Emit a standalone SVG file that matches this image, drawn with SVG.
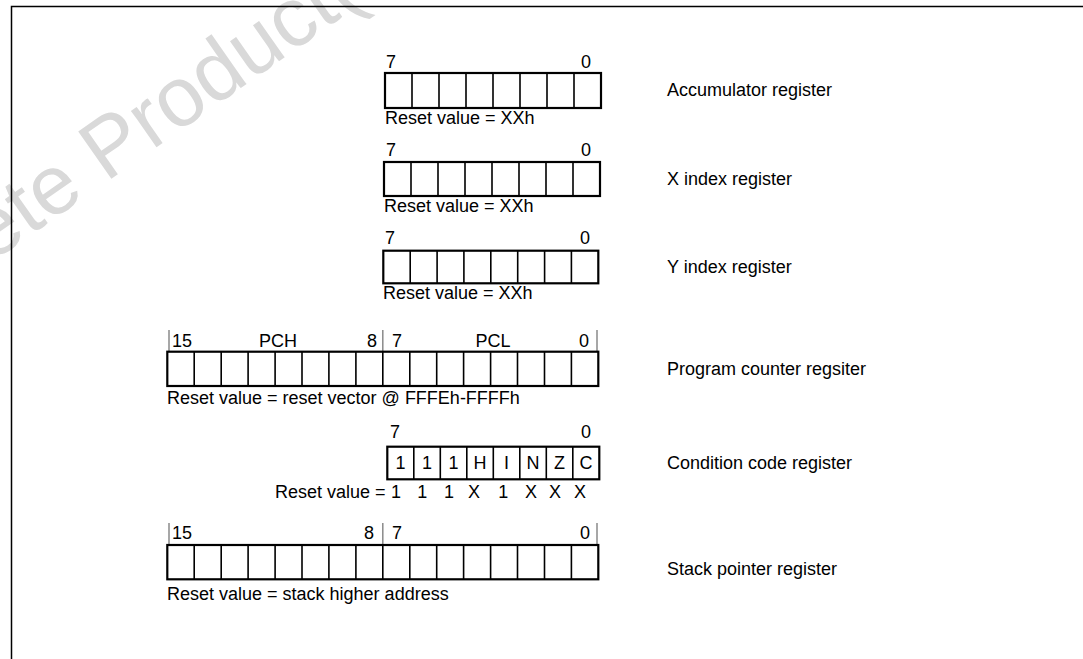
<svg xmlns="http://www.w3.org/2000/svg" width="1083" height="659" viewBox="0 0 1083 659">
<style>
.t{font-family:"Liberation Sans",Arial,Helvetica,sans-serif;font-size:18px;fill:#000}
.m{text-anchor:middle}
.e{text-anchor:end}
.box{fill:none;stroke:#000;stroke-width:2.2}
.cell{fill:none;stroke:#000;stroke-width:1.6}
.tick{stroke:#8a8a8a;stroke-width:1.5}
.wm{font-family:"Liberation Sans",Arial,sans-serif;font-size:84px;fill:#d9d9d9}
.frame{fill:none;stroke:#000;stroke-width:1.5}
</style>
<rect width="1083" height="659" fill="#fff"/>
<g id="watermark">
<text class="wm" transform="translate(-9 263) rotate(-35)">ete Product(</text>
</g>
<g id="frame"><path class="frame" d="M11.5 659V6.5H1083"/></g>

<g id="accumulator">
<text class="t" x="386" y="68">7</text>
<text class="t e" x="591" y="68">0</text>
<rect class="box" x="385" y="73" width="216" height="35"/>
<path class="cell" d="M412 73V108M439 73V108M466 73V108M493 73V108M520 73V108M547 73V108M574 73V108"/>
<text class="t" x="385" y="124">Reset value = XXh</text>
<text class="t" x="667" y="96">Accumulator register</text>
</g>

<g id="x-index">
<text class="t" x="386" y="156">7</text>
<text class="t e" x="591" y="156">0</text>
<rect class="box" x="384" y="162" width="216" height="34"/>
<path class="cell" d="M411 162V196M438 162V196M465 162V196M492 162V196M519 162V196M546 162V196M573 162V196"/>
<text class="t" x="384" y="212">Reset value = XXh</text>
<text class="t" x="667" y="185">X index register</text>
</g>

<g id="y-index">
<text class="t" x="385" y="244">7</text>
<text class="t e" x="590" y="244">0</text>
<rect class="box" x="383.3" y="250.7" width="215" height="32.6"/>
<path class="cell" d="M410.2 250.7V283.3M437.1 250.7V283.3M463.9 250.7V283.3M490.8 250.7V283.3M517.7 250.7V283.3M544.6 250.7V283.3M571.4 250.7V283.3"/>
<text class="t" x="383" y="299">Reset value = XXh</text>
<text class="t" x="667" y="273">Y index register</text>
</g>

<g id="program-counter">
<path class="tick" d="M169 330V351.7M382.8 330V351.7M597 330V351.7"/>
<text class="t" x="172" y="347">15</text>
<text class="t m" x="278" y="347">PCH</text>
<text class="t e" x="377" y="347">8</text>
<text class="t" x="392" y="347">7</text>
<text class="t m" x="493" y="347">PCL</text>
<text class="t e" x="589" y="347">0</text>
<rect class="box" x="167.3" y="351.7" width="431" height="34.3"/>
<path class="cell" d="M194.2 351.7V386M221.2 351.7V386M248.1 351.7V386M275.1 351.7V386M302 351.7V386M328.9 351.7V386M355.9 351.7V386M382.8 351.7V386M409.8 351.7V386M436.7 351.7V386M463.6 351.7V386M490.6 351.7V386M517.5 351.7V386M544.5 351.7V386M571.4 351.7V386"/>
<text class="t" x="167" y="404">Reset value = reset vector @ FFFEh-FFFFh</text>
<text class="t" x="667" y="375">Program counter regsiter</text>
</g>

<g id="condition-code">
<text class="t" x="390" y="438">7</text>
<text class="t e" x="591" y="438">0</text>
<rect class="box" x="387.3" y="446.7" width="212" height="32.6"/>
<path class="cell" d="M413.8 446.7V479.3M440.3 446.7V479.3M466.8 446.7V479.3M493.3 446.7V479.3M519.8 446.7V479.3M546.3 446.7V479.3M572.8 446.7V479.3"/>
<text class="t m" y="469"><tspan x="400.6">1</tspan><tspan x="427">1</tspan><tspan x="453.6">1</tspan><tspan x="480">H</tspan><tspan x="506.6">I</tspan><tspan x="533">N</tspan><tspan x="559.6">Z</tspan><tspan x="586">C</tspan></text>
<text class="t" x="275" y="498">Reset value =</text>
<text class="t m" y="498"><tspan x="396">1</tspan><tspan x="422.3">1</tspan><tspan x="449">1</tspan><tspan x="474">X</tspan><tspan x="503.3">1</tspan><tspan x="531">X</tspan><tspan x="555">X</tspan><tspan x="580">X</tspan></text>
<text class="t" x="667" y="469">Condition code register</text>
</g>

<g id="stack-pointer">
<path class="tick" d="M169 523V545M382.8 523V545M597 523V545"/>
<text class="t" x="172" y="539">15</text>
<text class="t e" x="374" y="539">8</text>
<text class="t" x="392" y="539">7</text>
<text class="t e" x="590" y="539">0</text>
<rect class="box" x="167.3" y="545" width="431" height="34.3"/>
<path class="cell" d="M194.2 545V579.3M221.2 545V579.3M248.1 545V579.3M275.1 545V579.3M302 545V579.3M328.9 545V579.3M355.9 545V579.3M382.8 545V579.3M409.8 545V579.3M436.7 545V579.3M463.6 545V579.3M490.6 545V579.3M517.5 545V579.3M544.5 545V579.3M571.4 545V579.3"/>
<text class="t" x="167" y="600">Reset value = stack higher address</text>
<text class="t" x="667" y="575">Stack pointer register</text>
</g>
</svg>
